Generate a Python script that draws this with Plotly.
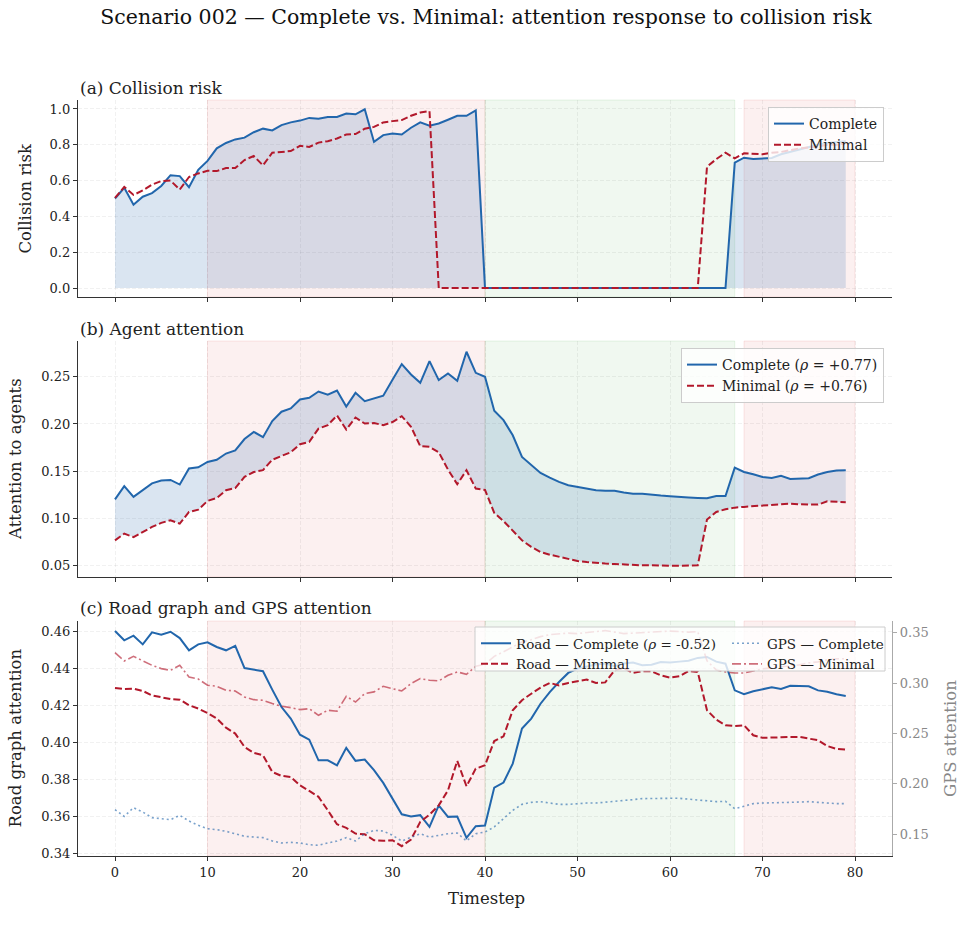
import plotly.graph_objects as go

# ---------------- data ----------------
timesteps = list(range(80))

risk_complete = [0.50, 0.56, 0.465, 0.51, 0.53, 0.57, 0.63, 0.625, 0.563, 0.66,
                 0.71, 0.78, 0.81, 0.83, 0.84, 0.87, 0.89, 0.88, 0.91, 0.925,
                 0.935, 0.95, 0.945, 0.955, 0.955, 0.974, 0.97, 0.998, 0.816, 0.854,
                 0.863, 0.857, 0.895, 0.925, 0.906, 0.919, 0.94, 0.962, 0.962, 0.992,
                 0, 0, 0, 0, 0, 0, 0, 0, 0, 0,
                 0, 0, 0, 0, 0, 0, 0, 0, 0, 0,
                 0, 0, 0, 0, 0, 0, 0, 0.70, 0.728, 0.72,
                 0.724, 0.726, 0.747, 0.76, 0.775, 0.79, 0.80, 0.81, 0.815, 0.82]

risk_minimal = [0.503, 0.565, 0.52, 0.545, 0.578, 0.597, 0.60, 0.55, 0.62, 0.64,
                0.655, 0.653, 0.67, 0.67, 0.715, 0.737, 0.685, 0.756, 0.76, 0.765,
                0.794, 0.788, 0.812, 0.82, 0.835, 0.857, 0.86, 0.89, 0.90, 0.925,
                0.932, 0.938, 0.962, 0.98, 0.988, 0, 0, 0, 0, 0,
                0, 0, 0, 0, 0, 0, 0, 0, 0, 0,
                0, 0, 0, 0, 0, 0, 0, 0, 0, 0,
                0, 0, 0, 0, 0.677, 0.72, 0.756, 0.724, 0.752, 0.75,
                0.747, 0.755, 0.76, 0.77, 0.78, 0.785, 0.79, 0.80, 0.80, 0.81]

agent_complete = [0.120, 0.134, 0.1226, 0.130, 0.137, 0.140, 0.1406, 0.1357, 0.1527, 0.154,
                  0.1597, 0.162, 0.1686, 0.172, 0.184, 0.1916, 0.186, 0.203, 0.213, 0.2164,
                  0.226, 0.2277, 0.2344, 0.231, 0.2355, 0.2185, 0.233, 0.2242, 0.227, 0.230,
                  0.247, 0.2635, 0.2525, 0.2436, 0.2666, 0.2465, 0.2535, 0.2458, 0.2766, 0.2542,
                  0.250, 0.214, 0.204, 0.188, 0.165, 0.157, 0.148, 0.143, 0.1385, 0.135,
                  0.1332, 0.1318, 0.1296, 0.129, 0.129, 0.1272, 0.126, 0.126, 0.1254, 0.124,
                  0.1233, 0.123, 0.122, 0.1215, 0.1212, 0.1236, 0.1236, 0.1537, 0.149, 0.1466,
                  0.1438, 0.1427, 0.1449, 0.1417, 0.1417, 0.1424, 0.1463, 0.149, 0.1505, 0.1509]

agent_minimal = [0.0765, 0.0836, 0.080, 0.0854, 0.0907, 0.095, 0.0978, 0.0942, 0.1066, 0.109,
                 0.1183, 0.1215, 0.1296, 0.132, 0.1438, 0.149, 0.151, 0.162, 0.1657, 0.170,
                 0.1785, 0.181, 0.195, 0.1987, 0.209, 0.194, 0.2068, 0.2004, 0.201, 0.1987,
                 0.202, 0.2082, 0.197, 0.1764, 0.1757, 0.170, 0.1516, 0.136, 0.1509, 0.1314,
                 0.130, 0.1056, 0.097, 0.0865, 0.0765, 0.0695, 0.0642, 0.0613, 0.0588, 0.0564,
                 0.0546, 0.0535, 0.0525, 0.0518, 0.0514, 0.0507, 0.0503, 0.050, 0.050, 0.0496,
                 0.0496, 0.0496, 0.0496, 0.050, 0.0985, 0.1066, 0.1095, 0.1112, 0.112, 0.1126,
                 0.1137, 0.1137, 0.1144, 0.1155, 0.1148, 0.1144, 0.1144, 0.118, 0.1172, 0.1169]

road_complete = [0.460, 0.455, 0.4575, 0.4528, 0.4593, 0.458, 0.4596, 0.4562, 0.4496, 0.4528,
                 0.4539, 0.4514, 0.4496, 0.452, 0.440, 0.4393, 0.4383, 0.4284, 0.419, 0.4128,
                 0.4041, 0.4014, 0.3903, 0.3903, 0.3876, 0.397, 0.390, 0.3907, 0.385, 0.3781,
                 0.3697, 0.3612, 0.360, 0.3607, 0.3544, 0.366, 0.3598, 0.360, 0.3485, 0.3548,
                 0.3551, 0.3756, 0.3783, 0.3885, 0.4074, 0.4128, 0.4208, 0.4271, 0.4325, 0.4374,
                 0.4397, 0.441, 0.442, 0.4425, 0.441, 0.4425, 0.443, 0.4415, 0.4418, 0.4433,
                 0.443, 0.4435, 0.444, 0.4455, 0.446, 0.4435, 0.4424, 0.428, 0.4259, 0.4275,
                 0.4284, 0.4297, 0.4288, 0.4305, 0.4304, 0.4302, 0.428, 0.4273, 0.4259, 0.425]

road_minimal = [0.4293, 0.4287, 0.4289, 0.4277, 0.4253, 0.4241, 0.4233, 0.423, 0.420, 0.4182,
                0.4158, 0.4128, 0.4079, 0.4047, 0.3975, 0.3943, 0.393, 0.384, 0.3819, 0.3813,
                0.3768, 0.3738, 0.3706, 0.3634, 0.3558, 0.3539, 0.3508, 0.3504, 0.3472, 0.3469,
                0.3472, 0.344, 0.3476, 0.3571, 0.361, 0.366, 0.3741, 0.390, 0.3763, 0.3858,
                0.3876, 0.4007, 0.4032, 0.4173, 0.4227, 0.4262, 0.4295, 0.432, 0.4307, 0.432,
                0.4329, 0.4338, 0.432, 0.4323, 0.4388, 0.440, 0.4374, 0.4383, 0.4383, 0.4361,
                0.4349, 0.4356, 0.4384, 0.4379, 0.4173, 0.4122, 0.4092, 0.4088, 0.4092, 0.4038,
                0.4024, 0.4024, 0.4027, 0.4029, 0.4029, 0.402, 0.4011, 0.398, 0.3964, 0.3961]

gps_complete = [0.1745, 0.1678, 0.1764, 0.1721, 0.1665, 0.1655, 0.1645, 0.1688, 0.1632, 0.1589,
                0.1556, 0.1546, 0.153, 0.1506, 0.148, 0.1473, 0.1467, 0.1434, 0.1414, 0.142,
                0.1414, 0.1397, 0.1391, 0.1414, 0.1434, 0.1467, 0.1434, 0.1506, 0.1539, 0.1533,
                0.149, 0.1434, 0.1467, 0.1506, 0.1473, 0.149, 0.1506, 0.1513, 0.1434, 0.1506,
                0.1523, 0.1573, 0.1655, 0.1738, 0.1797, 0.1817, 0.1824, 0.181, 0.1797, 0.1797,
                0.1804, 0.181, 0.181, 0.1817, 0.183, 0.1837, 0.1844, 0.1854, 0.1857, 0.1857,
                0.1857, 0.1857, 0.185, 0.1844, 0.1837, 0.1824, 0.1827, 0.1754, 0.1778, 0.1804,
                0.181, 0.181, 0.1814, 0.1817, 0.182, 0.1824, 0.1817, 0.181, 0.1804, 0.1804]

gps_minimal = [0.3302, 0.3219, 0.3265, 0.3219, 0.3176, 0.3143, 0.3126, 0.3176, 0.306, 0.304,
               0.2978, 0.2968, 0.2928, 0.2921, 0.2862, 0.2835, 0.2829, 0.2796, 0.277, 0.2756,
               0.2736, 0.2746, 0.268, 0.273, 0.272, 0.2869, 0.2812, 0.2895, 0.2912, 0.2968,
               0.2945, 0.2921, 0.2994, 0.3044, 0.3027, 0.3021, 0.3077, 0.311, 0.3087, 0.3166,
               0.3186, 0.3265, 0.331, 0.336, 0.3407, 0.343, 0.346, 0.348, 0.349, 0.3495,
               0.349, 0.350, 0.3515, 0.352, 0.3505, 0.349, 0.3495, 0.350, 0.3505, 0.351,
               0.3515, 0.351, 0.3505, 0.351, 0.322, 0.313, 0.311, 0.310, 0.310, 0.312,
               0.314, 0.315, 0.316, 0.317, 0.318, 0.320, 0.321, 0.323, 0.324, 0.324]

rho_agent_complete = 0.77
rho_agent_minimal = 0.76
rho_road_complete = -0.52

# risk phases (start, end, kind)
risk_phases = [(10, 40, "high"), (40, 67, "low"), (68, 80, "high")]

x_ticks = [0, 10, 20, 30, 40, 50, 60, 70, 80]
risk_ticks = [0.0, 0.2, 0.4, 0.6, 0.8, 1.0]
agent_ticks = [0.05, 0.10, 0.15, 0.20, 0.25]
road_ticks = [0.34, 0.36, 0.38, 0.40, 0.42, 0.44, 0.46]
gps_ticks = [0.15, 0.20, 0.25, 0.30, 0.35]

# ---------------- styles ----------------
FONT = "DejaVu Serif"
BLUE = "#2166ac"
RED = "#b2182b"
BLUE_FILL = "rgba(33,102,172,0.17)"
GPS_BLUE = "rgba(33,102,172,0.6)"
GPS_RED = "rgba(178,24,43,0.62)"
SPAN_COLORS = {"high": ("rgba(214,39,40,0.07)", "rgba(214,39,40,0.10)"),
               "low": ("rgba(44,160,44,0.07)", "rgba(44,160,44,0.10)")}
AXC = "#333333"
GRID = "rgba(0,0,0,0.055)"

# layout geometry (pixels -> paper)
W, H = 963, 935
ML, MR, MT, MB = 78, 71, 100, 79
PW, PH = W - ML - MR, H - MT - MB


def px_x(p):
    return (p - ML) / PW


def px_y(p):
    return (H - MB - p) / PH


fig = go.Figure()

# ---- panel (a) ----
fig.add_trace(go.Scatter(x=timesteps, y=risk_complete, mode="lines", line=dict(width=0),
                         fill="tozeroy", fillcolor=BLUE_FILL, showlegend=False,
                         hoverinfo="skip", xaxis="x", yaxis="y"))
fig.add_trace(go.Scatter(x=timesteps, y=risk_complete, mode="lines", name="Complete",
                         line=dict(color=BLUE, width=2), xaxis="x", yaxis="y", legend="legend"))
fig.add_trace(go.Scatter(x=timesteps, y=risk_minimal, mode="lines", name="Minimal",
                         line=dict(color=RED, width=2, dash="7px,3px"), xaxis="x", yaxis="y",
                         legend="legend"))

# ---- panel (b) ----
fig.add_trace(go.Scatter(x=timesteps, y=agent_minimal, mode="lines", line=dict(width=0),
                         showlegend=False, hoverinfo="skip", xaxis="x2", yaxis="y2"))
fig.add_trace(go.Scatter(x=timesteps, y=agent_complete, mode="lines", line=dict(width=0),
                         fill="tonexty", fillcolor=BLUE_FILL, showlegend=False,
                         hoverinfo="skip", xaxis="x2", yaxis="y2"))
fig.add_trace(go.Scatter(x=timesteps, y=agent_complete, mode="lines",
                         name=f"Complete (<i>ρ</i> = {rho_agent_complete:+.2f})",
                         line=dict(color=BLUE, width=2), xaxis="x2", yaxis="y2", legend="legend2"))
fig.add_trace(go.Scatter(x=timesteps, y=agent_minimal, mode="lines",
                         name=f"Minimal (<i>ρ</i> = {rho_agent_minimal:+.2f})",
                         line=dict(color=RED, width=2, dash="7px,3px"), xaxis="x2", yaxis="y2",
                         legend="legend2"))

# ---- panel (c) ----
fig.add_trace(go.Scatter(x=timesteps, y=road_complete, mode="lines",
                         name=f"Road — Complete (<i>ρ</i> = {rho_road_complete:.2f})",
                         line=dict(color=BLUE, width=2), xaxis="x3", yaxis="y3", legend="legend3"))
fig.add_trace(go.Scatter(x=timesteps, y=road_minimal, mode="lines", name="Road — Minimal",
                         line=dict(color=RED, width=2, dash="7px,3px"), xaxis="x3", yaxis="y3",
                         legend="legend3"))
fig.add_trace(go.Scatter(x=timesteps, y=gps_complete, mode="lines", name="GPS — Complete",
                         line=dict(color=GPS_BLUE, width=1.6, dash="2px,3px"), xaxis="x3",
                         yaxis="y4", legend="legend4"))
fig.add_trace(go.Scatter(x=timesteps, y=gps_minimal, mode="lines", name="GPS — Minimal",
                         line=dict(color=GPS_RED, width=1.6, dash="9px,3px,2px,3px"), xaxis="x3",
                         yaxis="y4", legend="legend4"))

# ---- shapes: risk phases ----
shapes = []
for xr, yr in [("x", "y domain"), ("x2", "y2 domain"), ("x3", "y3 domain")]:
    for s, e, kind in risk_phases:
        fc, lc = SPAN_COLORS[kind]
        shapes.append(dict(type="rect", xref=xr, yref=yr, x0=s, x1=e, y0=0, y1=1,
                           fillcolor=fc, line=dict(color=lc, width=1), layer="below"))

# panel (c) combined legend frame
shapes.append(dict(type="rect", xref="paper", yref="paper",
                   x0=px_x(475), x1=px_x(885), y0=px_y(671), y1=px_y(627),
                   fillcolor="rgba(255,255,255,0.8)", line=dict(color="#cccccc", width=1),
                   layer="above"))

common_x = dict(range=[-4, 84], tickvals=x_ticks, showgrid=True, gridcolor=GRID,
                griddash="4px,2px", gridwidth=0.8, showline=True, linecolor=AXC, linewidth=1.3,
                ticks="outside", ticklen=4, tickcolor=AXC, tickwidth=1.1, zeroline=False,
                domain=[0, 1], tickfont=dict(size=13, color="#222"))
common_y = dict(showgrid=True, gridcolor=GRID, griddash="4px,2px", gridwidth=0.8,
                showline=True, linecolor=AXC, linewidth=1.3, ticks="outside", ticklen=4,
                tickcolor=AXC, tickwidth=1.1, zeroline=False, tickfont=dict(size=13, color="#222"))

leg_common = dict(bgcolor="rgba(255,255,255,0.8)", bordercolor="#cccccc", borderwidth=1,
                  font=dict(family=FONT, size=14, color="#222"), xanchor="right", yanchor="top",
                  traceorder="normal")

ann = []
ann_font = dict(family=FONT, size=17, color="#222")
for txt, py in [("(a) Collision risk", 88), ("(b) Agent attention", 329),
                ("(c) Road graph and GPS attention", 608)]:
    ann.append(dict(text=txt, xref="paper", yref="paper", x=0, y=px_y(py), xanchor="left",
                    yanchor="middle", showarrow=False, font=ann_font))
for txt, pxx, py, col in [("Collision risk", 25, 198.5, "#222"),
                          ("Attention to agents", 15, 459, "#222"),
                          ("Road graph attention", 15, 738.5, "#222"),
                          ("GPS attention", 950, 739, "#888888")]:
    ann.append(dict(text=txt, xref="paper", yref="paper", x=px_x(pxx), y=px_y(py),
                    xanchor="center", yanchor="middle", textangle=-90, showarrow=False,
                    font=dict(family=FONT, size=16.5, color=col)))
ann.append(dict(text="Timestep", xref="paper", yref="paper", x=px_x(486), y=px_y(898),
                xanchor="center", yanchor="middle", showarrow=False,
                font=dict(family=FONT, size=16.5, color="#222")))

fig.update_layout(
    width=W, height=H,
    margin=dict(l=ML, r=MR, t=MT, b=MB, pad=0),
    paper_bgcolor="white", plot_bgcolor="white",
    font=dict(family=FONT, size=13, color="#222"),
    title=dict(text="Scenario 002 — Complete vs. Minimal: attention response to collision risk",
               x=486 / W, y=1 - 17 / H, xref="container", yref="container",
               xanchor="center", yanchor="middle", font=dict(family=FONT, size=20.5, color="#111")),
    xaxis=dict(common_x, anchor="y", showticklabels=False),
    xaxis2=dict(common_x, anchor="y2", showticklabels=False),
    xaxis3=dict(common_x, anchor="y3"),
    yaxis=dict(common_y, domain=[px_y(297), 1.0], anchor="x", range=[-0.05, 1.05],
               tickvals=risk_ticks, tickformat=".1f"),
    yaxis2=dict(common_y, domain=[px_y(577), px_y(341)], anchor="x2", range=[0.0376, 0.288],
                tickvals=agent_ticks, tickformat=".2f"),
    yaxis3=dict(common_y, domain=[0, px_y(621)], anchor="x3", range=[0.3387, 0.4654],
                tickvals=road_ticks, tickformat=".2f"),
    yaxis4=dict(overlaying="y3", side="right", anchor="x3", range=[0.1285, 0.3615],
                tickvals=gps_ticks, tickformat=".2f", showgrid=False, zeroline=False,
                showline=True, linecolor="#aaaaaa", linewidth=1.3, ticks="outside", ticklen=4,
                tickcolor="#aaaaaa", tickfont=dict(size=13, color="#888888")),
    legend=dict(leg_common, x=px_x(884), y=px_y(107)),
    legend2=dict(leg_common, x=px_x(884), y=px_y(348)),
    legend3=dict(x=px_x(476), y=px_y(628), xanchor="left", yanchor="top",
                 bgcolor="rgba(0,0,0,0)", borderwidth=0, traceorder="normal",
                 font=dict(family=FONT, size=13.5, color="#222")),
    legend4=dict(x=px_x(727), y=px_y(628), xanchor="left", yanchor="top",
                 bgcolor="rgba(0,0,0,0)", borderwidth=0, traceorder="normal",
                 font=dict(family=FONT, size=13.5, color="#222")),
    shapes=shapes,
    annotations=ann,
    hovermode=False,
)

fig.write_html("out.html")
